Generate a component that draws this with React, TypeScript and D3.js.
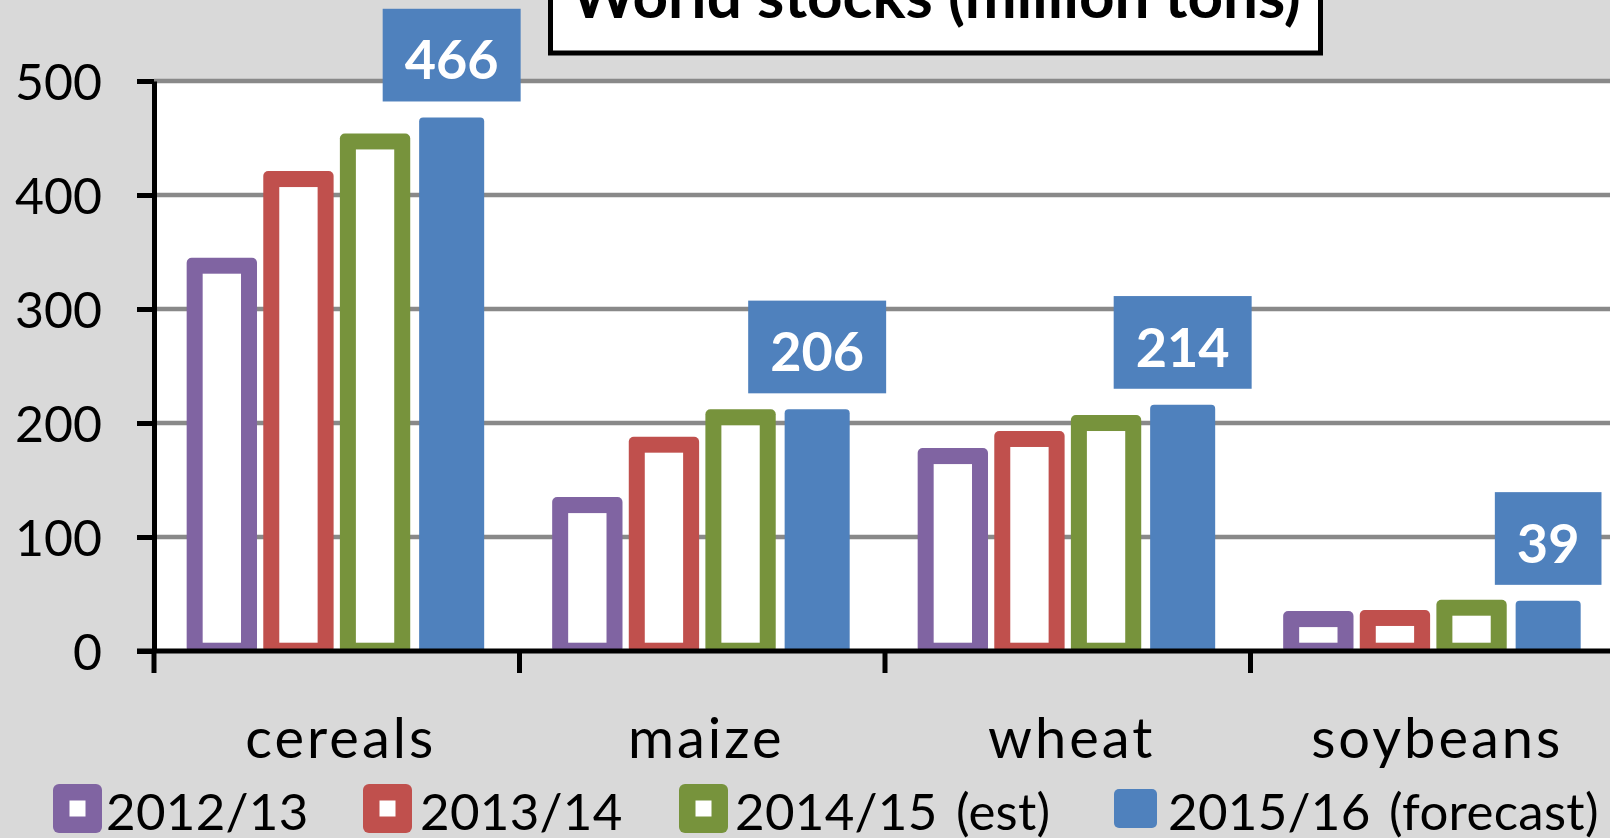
import React, { useEffect, useRef } from 'react';
import * as d3 from 'd3';

// world stocks, million tons
const categories = ['cereals', 'maize', 'wheat', 'soybeans'];
const seriesNames = ['2012/13', '2013/14', '2014/15 (est)', '2015/16 (forecast)'];
const stocks2012 = [345, 135, 178, 35];
const stocks2013 = [421, 188, 193, 36];
const stocks2014 = [454, 212, 207, 45];
const stocks2015 = [468, 212, 216, 44];
const forecastLabels = ['466', '206', '214', '39'];
const yTicks = [0, 100, 200, 300, 400, 500];
const title = 'World stocks (million tons)';

const colors = ['#8064A2', '#C0504D', '#77933C', '#4F81BD'];
const legendMarkerX = [53, 363, 679, 1114];
const legendTextX = [106, 420, 735, 1168];

function App() {
  const svgRef = useRef<SVGSVGElement>(null);

  useEffect(() => {
    const svg = d3.select(svgRef.current);
    svg.selectAll('*').remove();
    const width = 1610;
    const height = 838;
    const font = 'Lato, "Open Sans", sans-serif';
    const left = 154;
    const seriesValues = [stocks2012, stocks2013, stocks2014, stocks2015];

    const y = d3.scaleLinear().domain([0, 500]).range([651, 81]);
    const x0 = d3.scaleBand().domain(categories).range([left, left + 4 * 365.5]);
    const x1 = d3.scaleBand().domain(seriesNames).range([0, x0.bandwidth()])
      .paddingInner(0.151).paddingOuter(0.461);
    const bw = x1.bandwidth();

    svg.append('rect').attr('width', width).attr('height', height).attr('fill', '#d9d9d9');
    svg.append('rect')
      .attr('x', left).attr('y', y(500))
      .attr('width', width - left).attr('height', y(0) - y(500))
      .attr('fill', '#fff');

    // gridlines
    svg.append('g').selectAll('line')
      .data(yTicks.filter(d => d > 0))
      .join('line')
      .attr('x1', left).attr('x2', width)
      .attr('y1', d => y(d)).attr('y2', d => y(d))
      .attr('stroke', '#898989').attr('stroke-width', 4.5);

    // bars
    seriesNames.forEach((name, i) => {
      const g = svg.append('g');
      categories.forEach((cat, j) => {
        const v = seriesValues[i][j];
        const bx = (x0(cat) as number) + (x1(name) as number);
        if (i < 3) {
          const ox = bx - 2.65;
          const ow = bw + 5.3;
          g.append('rect')
            .attr('x', ox).attr('y', y(v))
            .attr('width', ow).attr('height', 653 - y(v))
            .attr('rx', 5).attr('fill', colors[i]);
          g.append('rect')
            .attr('x', ox + 16).attr('y', y(v) + 16)
            .attr('width', ow - 32).attr('height', Math.max(0, 642.7 - (y(v) + 16)))
            .attr('fill', '#fff');
        } else {
          g.append('rect')
            .attr('x', bx).attr('y', y(v))
            .attr('width', bw).attr('height', 653 - y(v))
            .attr('rx', 4).attr('fill', colors[i]);
        }
      });
    });

    // forecast labels
    categories.forEach((cat, j) => {
      const cx = (x0(cat) as number) + (x1(seriesNames[3]) as number) + bw / 2;
      const bottom = y(stocks2015[j]) - 16;
      const g = svg.append('g');
      const t = g.append('text')
        .attr('x', cx).attr('y', bottom - 22)
        .attr('text-anchor', 'middle')
        .attr('font-family', font).attr('font-weight', 'bold')
        .attr('font-size', 54).attr('fill', '#fff')
        .text(forecastLabels[j]);
      const tw = (t.node() as SVGTextElement).getComputedTextLength();
      const w = tw + 44;
      g.insert('rect', 'text')
        .attr('x', cx - w / 2).attr('y', bottom - 92.7)
        .attr('width', w).attr('height', 92.7)
        .attr('fill', colors[3]);
    });

    // y axis
    const yAxis = svg.append('g')
      .attr('transform', `translate(${left},0)`)
      .call(d3.axisLeft(y).tickValues(yTicks).tickSize(17).tickSizeOuter(0).tickPadding(35));
    yAxis.select('.domain').attr('stroke', '#000').attr('stroke-width', 5);
    yAxis.selectAll('.tick line').attr('stroke', '#000').attr('stroke-width', 5);
    yAxis.selectAll('.tick text')
      .attr('font-family', font).attr('font-size', 50).attr('fill', '#000').attr('dy', '0.36em');

    // x axis
    const xa = svg.append('g');
    xa.append('line')
      .attr('x1', left - 17).attr('x2', width)
      .attr('y1', y(0)).attr('y2', y(0))
      .attr('stroke', '#000').attr('stroke-width', 5);
    xa.selectAll('line.tk')
      .data(categories)
      .join('line')
      .attr('class', 'tk')
      .attr('x1', d => x0(d) as number).attr('x2', d => x0(d) as number)
      .attr('y1', y(0)).attr('y2', y(0) + 22)
      .attr('stroke', '#000').attr('stroke-width', 5);
    xa.selectAll('text')
      .data(categories)
      .join('text')
      .attr('x', d => (x0(d) as number) + x0.bandwidth() / 2 + 4)
      .attr('y', 758)
      .attr('text-anchor', 'middle')
      .attr('font-family', font).attr('font-size', 56)
      .attr('letter-spacing', 3)
      .text(d => d);

    // title box
    svg.append('rect')
      .attr('x', 550.5).attr('y', -20)
      .attr('width', 770).attr('height', 73)
      .attr('fill', '#fff').attr('stroke', '#000').attr('stroke-width', 5);
    svg.append('text')
      .attr('x', 936).attr('y', 18)
      .attr('text-anchor', 'middle')
      .attr('font-family', font).attr('font-weight', 'bold').attr('font-size', 62)
      .text(title);

    // legend
    const lg = svg.append('g');
    seriesNames.forEach((name, i) => {
      if (i < 3) {
        lg.append('rect')
          .attr('x', legendMarkerX[i]).attr('y', 784)
          .attr('width', 49).attr('height', 49).attr('rx', 6)
          .attr('fill', colors[i]);
        lg.append('rect')
          .attr('x', legendMarkerX[i] + 16.5).attr('y', 800.5)
          .attr('width', 16).attr('height', 16)
          .attr('fill', '#fff');
      } else {
        lg.append('rect')
          .attr('x', legendMarkerX[i]).attr('y', 789)
          .attr('width', 43).attr('height', 39).attr('rx', 5)
          .attr('fill', colors[i]);
      }
      lg.append('text')
        .attr('x', legendTextX[i]).attr('y', 830)
        .attr('font-family', font).attr('font-size', 51)
        .attr('letter-spacing', 0.3).attr('word-spacing', 5)
        .text(name);
    });
  }, []);

  return (
    <svg
      ref={svgRef}
      width={1610}
      height={838}
      style={{ position: 'absolute', left: 0, top: 0, display: 'block' }}
    />
  );
}

export default App;
